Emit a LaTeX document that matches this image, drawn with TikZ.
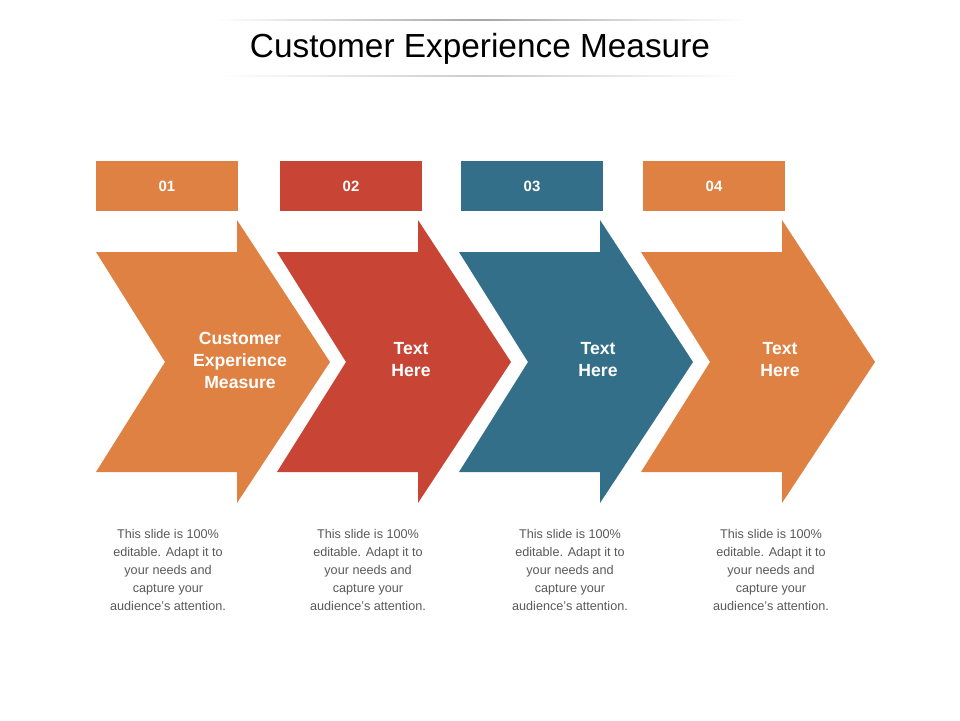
\documentclass[tikz,border=0pt]{standalone}
\usepackage{fontspec}
\setmainfont{Liberation Sans}
\definecolor{corange}{HTML}{DF8142}
\definecolor{cred}{HTML}{C84535}
\definecolor{cteal}{HTML}{336F89}
\definecolor{ctext}{HTML}{595959}
\tikzset{
  numbox/.style={minimum width=142*0.02cm, minimum height=50*0.02cm, inner sep=0pt, text=white, font=\fontsize{8.5}{10}\selectfont\bfseries},
  arrowtext/.style={text=white, align=center, font=\fontsize{10}{12.5}\selectfont\bfseries},
  desctext/.style={text=ctext, align=center, font=\fontsize{7.2}{10.2}\selectfont}
}
\begin{document}
\begin{tikzpicture}[x=0.02cm,y=-0.02cm]
\useasboundingbox (0,0) rectangle (960,720);
% title
\shade[left color=white, right color=white, middle color=gray!70] (215,19) rectangle (745,20.5);
\shade[left color=white, right color=white, middle color=gray!40] (215,75) rectangle (745,76.5);
\node (title) at (480,49) {\fontsize{19}{22}\selectfont Customer Experience Measure};
% arrows
\foreach \x/\c in {0/corange,181/cred,363/cteal,545/corange}
   \fill[\c] (96+\x,252) -- (237+\x,252) -- (237+\x,220) -- (330+\x,362)
      -- (237+\x,503) -- (237+\x,472) -- (96+\x,472) -- (165+\x,362) -- cycle;
% number boxes
\node[numbox, fill=corange] (n1) at (167,186) {01};
\node[numbox, fill=cred] (n2) at (351,186) {02};
\node[numbox, fill=cteal] (n3) at (532,186) {03};
\node[numbox, fill=corange] (n4) at (714,186) {04};
% labels
\node[arrowtext] (a1) at (240,360) {Customer\\Experience\\Measure};
\node[arrowtext] (a2) at (411,360) {Text\\Here};
\node[arrowtext] (a3) at (598,360) {Text\\Here};
\node[arrowtext] (a4) at (780,360) {Text\\Here};
\foreach \n/\x in {1/168,2/368,3/570,4/771}
    \node[desctext] (d\n) at (\x,570) {This slide is 100\%\\editable. Adapt it to\\your needs and\\capture your\\audience's attention.};
\end{tikzpicture}
\end{document}
